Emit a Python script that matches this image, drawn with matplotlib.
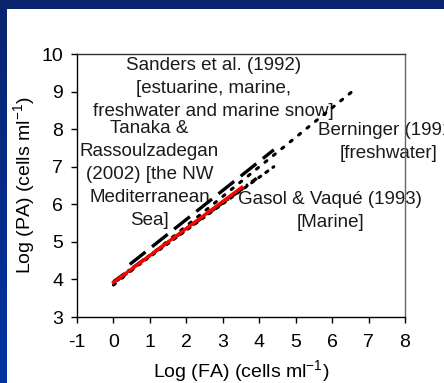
import matplotlib
matplotlib.use("Agg")
import matplotlib.pyplot as plt
import numpy as np
from matplotlib.patches import Rectangle

plt.rcParams['font.family'] = ['Liberation Sans', 'DejaVu Sans']
plt.rcParams['mathtext.fontset'] = 'custom'
plt.rcParams['mathtext.rm'] = 'Liberation Sans'
plt.rcParams['mathtext.it'] = 'Liberation Sans:italic'
plt.rcParams['mathtext.bf'] = 'Liberation Sans:bold'
plt.rcParams['lines.scale_dashes'] = False

# Regression lines (log FA -> log PA)
sanders_x = [0.0, 6.55]
sanders_y = [3.85, 9.0]
berninger_x = [0.0, 4.4]
berninger_y = [3.9, 7.0]
tanaka_x = [0.45, 4.4]
tanaka_y = [4.4, 7.45]
gasol_x = [0.0, 3.93]
gasol_y = [3.94, 6.69]
present_x = [0.0, 3.52]
present_y = [3.92, 6.45]

x_ticks = [-1, 0, 1, 2, 3, 4, 5, 6, 7, 8]
y_ticks = [3, 4, 5, 6, 7, 8, 9, 10]

W, H = 444, 383
fig = plt.figure(figsize=(W / 100, H / 100), dpi=100)
fig.patch.set_facecolor('white')

# slide-style blue frame (top band and left gradient band)
bg = fig.add_axes([0, 0, 7 / W, 1])
grad = np.linspace(0, 1, 256).reshape(-1, 1)
top_c = np.array([10, 36, 110]) / 255
bot_c = np.array([0, 52, 162]) / 255
img = (top_c[None, None, :] * (1 - grad[:, :, None]) + bot_c[None, None, :] * grad[:, :, None])
bg.imshow(img, aspect='auto', extent=[0, 1, 0, 1])
bg.set_axis_off()
fig.patches.append(Rectangle((0, 1 - 9 / H), 1, 9 / H, transform=fig.transFigure,
                             facecolor=top_c, edgecolor='none', zorder=5))

ax = fig.add_axes([77 / W, (H - 317) / H, (405 - 77) / W, (317 - 54) / H])

ax.plot(sanders_x, sanders_y, color='black', lw=2.2, linestyle=(0, (1.8, 6.0)),
        dash_capstyle='round', zorder=2)
ax.plot(berninger_x, berninger_y, color='black', lw=2.2, linestyle=(3, (1.8, 4.5)),
        dash_capstyle='round', zorder=2)
ax.plot(tanaka_x, tanaka_y, color='black', lw=2.4, linestyle=(0, (14.4, 6.0)), zorder=3)
ax.plot(gasol_x, gasol_y, color='black', lw=2.4, linestyle=(0, (10, 3, 1.5, 3)), zorder=3)
ax.plot(present_x, present_y, color='#ff0000', lw=2.4, zorder=4)

ax.set_xlim(-1, 8)
ax.set_ylim(3, 10)
ax.set_xticks(x_ticks)
ax.set_yticks(y_ticks)
ax.set_xticklabels([str(v) for v in x_ticks])
ax.set_yticklabels([str(v) for v in y_ticks])
ax.tick_params(axis='both', direction='out', length=4, width=1, labelsize=14, colors='black')
ax.tick_params(axis='x', pad=8)
ax.tick_params(axis='y', pad=6)
for s in ax.spines.values():
    s.set_linewidth(1.0)
    s.set_color('black')
ax.spines['right'].set_color('#666666')
ax.spines['top'].set_color('#333333')

ax.set_xlabel('Log (FA) (cells ml$^{\\mathregular{-1}}$)', fontsize=14, labelpad=5)
ax.set_ylabel('Log (PA) (cells ml$^{\\mathregular{-1}}$)', fontsize=14, labelpad=3)

fs = 13.5
ls = 1.46
tc = '#1a1a1a'
ax.text(2.74, 9.08, 'Sanders et al. (1992)\n[estuarine, marine,\nfreshwater and marine snow]',
        ha='center', va='center', fontsize=fs, color=tc, linespacing=ls, zorder=1)
ax.text(0.99, 6.79, 'Tanaka &\nRassoulzadegan\n(2002) [the NW\nMediterranean\nSea]',
        ha='center', va='center', fontsize=fs, color=tc, linespacing=ls, zorder=1)
ax.text(7.55, 7.67, 'Berninger (1991)\n[freshwater]', ha='center', va='center',
        fontsize=fs, color=tc, linespacing=ls, zorder=1, clip_on=False)
ax.text(5.95, 5.81, 'Gasol & Vaqué (1993)\n[Marine]', ha='center', va='center',
        fontsize=fs, color=tc, linespacing=ls, zorder=1)

fig.savefig('out.png', dpi=100, facecolor=fig.get_facecolor())
